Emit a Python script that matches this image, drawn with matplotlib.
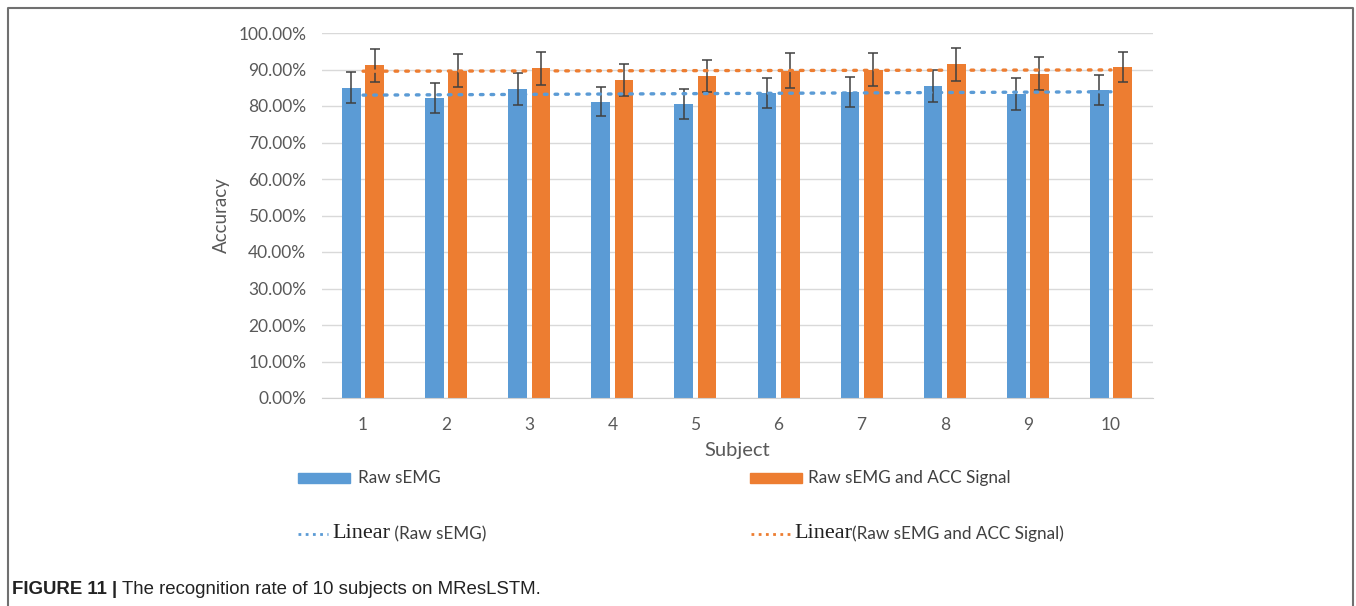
import numpy as np
import matplotlib
matplotlib.use("Agg")
import matplotlib.pyplot as plt
from matplotlib.lines import Line2D
from matplotlib.patches import Rectangle
from matplotlib.ticker import PercentFormatter

# data (accuracy in %)
subjects = [1, 2, 3, 4, 5, 6, 7, 8, 9, 10]
raw_semg = [85.0, 82.3, 84.7, 81.2, 80.5, 83.6, 83.9, 85.5, 83.3, 84.4]
raw_semg_err = [4.2, 4.1, 4.3, 4.0, 4.1, 4.1, 4.1, 4.3, 4.4, 4.2]
raw_acc = [91.1, 89.7, 90.3, 87.1, 88.2, 89.7, 90.0, 91.4, 88.9, 90.7]
raw_acc_err = [4.5, 4.6, 4.5, 4.4, 4.4, 4.7, 4.5, 4.6, 4.6, 4.1]

lab_semg = "Raw sEMG"
lab_acc = "Raw sEMG and ACC Signal"
caption_bold = "FIGURE 11 | "
caption_rest = "The recognition rate of 10 subjects on MResLSTM."

blue = "#5B9BD5"
orange = "#ED7D31"
txtc = "#595959"
sans = ["Lato", "DejaVu Sans"]

W, H = 1356, 606
def px(x):
    return x / W
def py(y):
    return 1 - y / H

fig = plt.figure(figsize=(13.56, 6.06), dpi=100)
ax = fig.add_axes([px(321.5), py(398), px(1152.5) - px(321.5), py(33) - py(398)])

x = np.array(subjects, dtype=float)
bw = 0.225
off = 0.14
ax.bar(x - off, raw_semg, width=bw, color=blue, zorder=2)
ax.bar(x + off, raw_acc, width=bw, color=orange, zorder=2)
ax.errorbar(x - off, raw_semg, yerr=raw_semg_err, fmt="none", ecolor="#404040",
            elinewidth=1.1, capsize=3.5, capthick=1.1, zorder=3)
ax.errorbar(x + off, raw_acc, yerr=raw_acc_err, fmt="none", ecolor="#404040",
            elinewidth=1.1, capsize=3.5, capthick=1.1, zorder=3)

# linear trendlines
for vals, c in [(raw_semg, blue), (raw_acc, orange)]:
    k, b = np.polyfit(x, vals, 1)
    ax.plot([x[0], x[-1]], [k * x[0] + b, k * x[-1] + b], color=c, lw=2.4,
            ls=(0, (0.8, 2.4)), dash_capstyle="round", zorder=4)

ax.set_xlim(0.5, 10.5)
ax.set_ylim(0, 100)
ax.set_yticks(np.arange(0, 101, 10))
ax.yaxis.set_major_formatter(PercentFormatter(decimals=2))
ax.set_xticks(subjects)
ax.grid(axis="y", color="#d9d9d9", lw=1, zorder=0)
for s in ["top", "right", "left"]:
    ax.spines[s].set_visible(False)
ax.spines["bottom"].set_color("#d0d0d0")
ax.tick_params(length=0, labelsize=12.5, labelcolor=txtc)
ax.tick_params(axis="y", pad=11)
ax.tick_params(axis="x", pad=14)
for t in ax.get_xticklabels() + ax.get_yticklabels():
    t.set_family(sans)
ax.set_xlabel("Subject", fontsize=14.5, color=txtc, family=sans, labelpad=6)
ax.set_ylabel("Accuracy", fontsize=13.5, color=txtc, family=sans, labelpad=6)

# legend drawn by hand
fig.patches.append(Rectangle((px(298), py(483)), px(52), py(473) - py(483),
                             transform=fig.transFigure, color=blue))
fig.patches.append(Rectangle((px(750), py(483)), px(52), py(473) - py(483),
                             transform=fig.transFigure, color=orange))
fig.text(px(358), py(478), lab_semg, fontsize=12.3, color="#404040", family=sans, va="center")
fig.text(px(808), py(478), lab_acc, fontsize=12.3, color="#404040", family=sans, va="center")
fig.lines.append(Line2D([px(298), px(328)], [py(534), py(534)], transform=fig.transFigure,
                        color=blue, lw=2, ls=(0, (1, 1.6))))
fig.lines.append(Line2D([px(751), px(791)], [py(534), py(534)], transform=fig.transFigure,
                        color=orange, lw=2, ls=(0, (1, 1.6))))

fig.canvas.draw()
r = fig.canvas.get_renderer()

def text_after(x0, y0, parts):
    xx = x0
    for s, kw in parts:
        t = fig.text(xx, y0, s, va="center", **kw)
        bb = t.get_window_extent(renderer=r)
        xx = px(bb.x1)

serif = dict(fontsize=16, color="#202020", family=["Liberation Serif", "DejaVu Serif"])
sans_kw = dict(fontsize=12.3, color="#404040", family=sans)
text_after(px(332), py(534), [("Linear", serif), (" (" + lab_semg + ")", sans_kw)])
text_after(px(794), py(534), [("Linear", serif), ("(" + lab_acc + ")", sans_kw)])

cap_kw = dict(fontsize=13.4, color="#222222", family=["Liberation Sans", "DejaVu Sans"])
text_after(px(12), py(590), [(caption_bold, dict(cap_kw, weight="bold")), (caption_rest, cap_kw)])

# frame around the figure
fc = "#707070"
fig.lines.append(Line2D([px(8), px(8), px(1353), px(1353)], [0, py(8), py(8), 0],
                        transform=fig.transFigure, color=fc, lw=1.5))

fig.savefig("out.png", dpi=100)
